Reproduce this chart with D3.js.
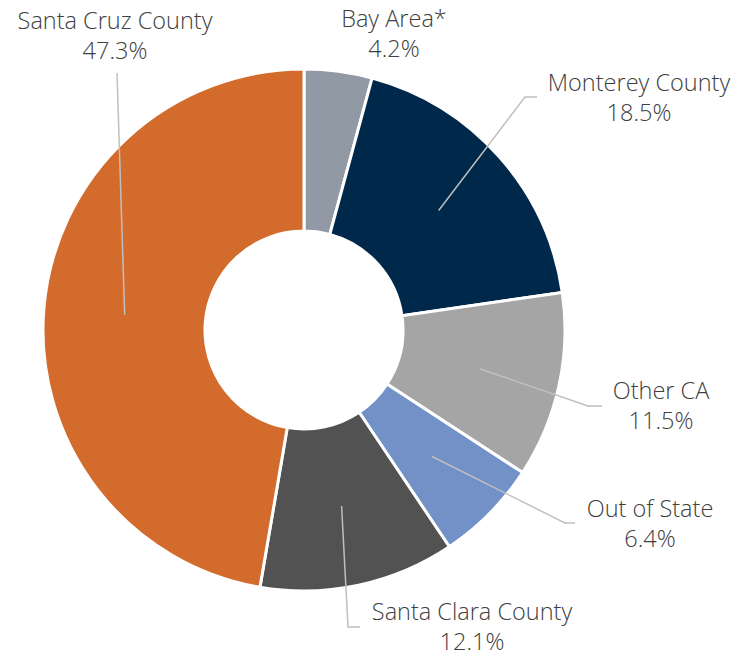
<!DOCTYPE html>
<html lang="en">
  <head>
    <meta charset="UTF-8" />
    <title>Visitor Origin Donut</title>
    <script src="https://cdn.jsdelivr.net/npm/d3@7"></script>
    <style>
      body {
        margin: 0;
        background: #ffffff;
      }
      .label {
        font-family: "Open Sans", sans-serif;
        font-weight: 300;
        font-size: 23.5px;
        fill: #404040;
      }
      .leader {
        fill: none;
        stroke: #bfbfbf;
        stroke-width: 1.5;
      }
    </style>
  </head>
  <body>
    <svg id="chart" width="749" height="657"></svg>

    <script>
      // data, clockwise from 12 o'clock
      let regions = [
        "Bay Area*",
        "Monterey County",
        "Other CA",
        "Out of State",
        "Santa Clara County",
        "Santa Cruz County",
      ];
      let shares = [4.2, 18.5, 11.5, 6.4, 12.1, 47.3];
      let colors = ["#9199a4", "#00284a", "#a5a5a5", "#7291c7", "#525252", "#d26b2c"];

      // label layout (text centre / first baseline, and leader elbow points)
      let labelLayout = {
        "Bay Area*": { x: 394, y: 27, leader: null },
        "Monterey County": { x: 639, y: 91, leader: [[525, 97], [537, 97]] },
        "Other CA": { x: 661, y: 399, leader: [[588, 406], [602, 406]] },
        "Out of State": { x: 650, y: 517, leader: [[565, 523], [575, 523]] },
        "Santa Clara County": { x: 472, y: 620, leader: [[348, 627], [360, 627]] },
        "Santa Cruz County": { x: 115, y: 29, leader: [[117, 73]] },
      };

      let cx = 304,
        cy = 330,
        outerR = 261,
        innerR = 99;

      let svg = d3.select("#chart");
      let g = svg.append("g").attr("transform", "translate(" + cx + "," + cy + ")");

      let data = regions.map(function (r, i) {
        return { name: r, value: shares[i], color: colors[i] };
      });

      let pie = d3.pie().sort(null).value(function (d) {
        return d.value;
      });
      let arcs = pie(data);

      let arc = d3.arc().innerRadius(innerR).outerRadius(outerR);
      // leader lines start here
      let leaderArc = d3.arc().innerRadius(180).outerRadius(180);

      g.selectAll("path.slice")
        .data(arcs)
        .enter()
        .append("path")
        .attr("class", "slice")
        .attr("d", arc)
        .attr("fill", function (d) {
          return d.data.color;
        })
        .attr("stroke", "#ffffff")
        .attr("stroke-width", 3)
        .attr("stroke-linejoin", "round");

      // leader lines
      let line = d3.line();
      arcs.forEach(function (d) {
        let lay = labelLayout[d.data.name];
        if (!lay.leader) return;
        let c = leaderArc.centroid(d);
        let pts = [[cx + c[0], cy + c[1]]].concat(lay.leader);
        svg.append("path").attr("class", "leader").attr("d", line(pts));
      });

      // labels
      arcs.forEach(function (d) {
        let lay = labelLayout[d.data.name];
        let t = svg
          .append("text")
          .attr("class", "label")
          .attr("text-anchor", "middle")
          .attr("x", lay.x)
          .attr("y", lay.y);
        t.append("tspan").attr("x", lay.x).text(d.data.name);
        t.append("tspan")
          .attr("x", lay.x)
          .attr("dy", 30)
          .text(d.data.value.toFixed(1) + "%");
      });
    </script>
  </body>
</html>
